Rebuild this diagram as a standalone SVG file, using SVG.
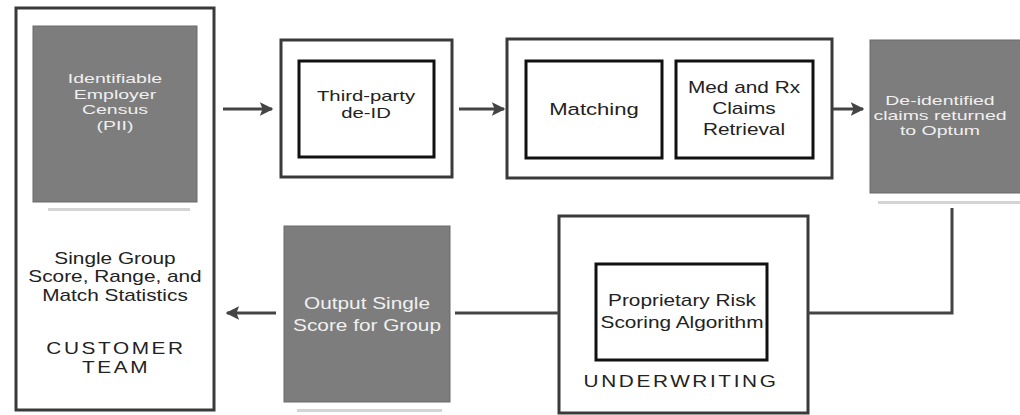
<svg xmlns="http://www.w3.org/2000/svg" width="1020" height="415" viewBox="0 0 1020 415">
<defs>
<marker id="ah" viewBox="0 0 10 10" refX="9" refY="5" markerWidth="4.5" markerHeight="4.5" orient="auto" markerUnits="strokeWidth">
<path d="M0,0 L10,5 L0,10 L2,5 Z" fill="#444"/>
</marker>
<style>
.outer{fill:#fff;stroke:#3a3a3a;stroke-width:3}
.inner{fill:#fff;stroke:#111;stroke-width:3}
.grey{fill:#7d7d7d;stroke:#6a6a6a;stroke-width:1}
.shadow{fill:#d4d4d4}
.t{font-family:"Liberation Sans",Arial,sans-serif;font-size:16px;fill:#222;text-anchor:middle;dominant-baseline:central}
.w{fill:#f0f0f0}
.sm{font-size:13px}
.s14{font-size:14px}
.m17{font-size:17px}
.cap{letter-spacing:2px}
.c{fill:none;stroke:#444;stroke-width:3}
</style>
</defs>
<rect width="1020" height="415" fill="#fff"/>

<g id="customer-team">
<rect class="outer" x="16" y="8" width="198" height="402"/>
<text class="t" transform="translate(115,258) scale(1.3,1)">Single Group</text>
<text class="t" transform="translate(115,276) scale(1.3,1)">Score, Range, and</text>
<text class="t" transform="translate(115,295) scale(1.3,1)">Match Statistics</text>
<text class="t cap" transform="translate(116,348) scale(1.3,1)">CUSTOMER</text>
<text class="t cap" transform="translate(116,367) scale(1.3,1)">TEAM</text>
</g>

<g id="census">
<rect class="shadow" x="48" y="208" width="142" height="3"/>
<rect class="grey" x="33" y="26" width="164" height="176"/>
<text class="t w sm" transform="translate(115,79) scale(1.5,1)">Identifiable</text>
<text class="t w sm" transform="translate(115,94.5) scale(1.5,1)">Employer</text>
<text class="t w sm" transform="translate(115,110) scale(1.5,1)">Census</text>
<text class="t w sm" transform="translate(115,125.5) scale(1.5,1)">(PII)</text>
</g>

<g id="deid-stage">
<rect class="outer" x="281" y="40" width="171" height="137"/>
</g>
<g id="third-party">
<rect class="inner" x="299" y="61" width="135" height="96"/>
<text class="t s14" transform="translate(366,96.5) scale(1.45,1)">Third-party</text>
<text class="t s14" transform="translate(366,113) scale(1.45,1)">de-ID</text>
</g>

<g id="match-stage">
<rect class="outer" x="507" y="39" width="325" height="139"/>
</g>
<g id="matching">
<rect class="inner" x="526" y="61" width="136" height="97"/>
<text class="t m17" transform="translate(594,109) scale(1.3,1)">Matching</text>
</g>
<g id="claims-retrieval">
<rect class="inner" x="676" y="61" width="137" height="97"/>
<text class="t" transform="translate(744,87) scale(1.3,1)">Med and Rx</text>
<text class="t" transform="translate(744,108) scale(1.3,1)">Claims</text>
<text class="t" transform="translate(744,129) scale(1.3,1)">Retrieval</text>
</g>

<g id="deidentified-claims">
<rect class="shadow" x="878" y="201" width="142" height="3"/>
<rect class="grey" x="870" y="40" width="152" height="153"/>
<text class="t w sm" transform="translate(940,101) scale(1.5,1)">De-identified</text>
<text class="t w sm" transform="translate(940,116) scale(1.5,1)">claims returned</text>
<text class="t w sm" transform="translate(940,131) scale(1.5,1)">to Optum</text>
</g>

<g id="underwriting">
<rect class="outer" x="559" y="216" width="249" height="197"/>
<text class="t cap" transform="translate(681,381) scale(1.3,1)">UNDERWRITING</text>
</g>
<g id="risk-algorithm">
<rect class="inner" x="596" y="264" width="171" height="96"/>
<text class="t" transform="translate(682,300) scale(1.3,1)">Proprietary Risk</text>
<text class="t" transform="translate(682,322) scale(1.3,1)">Scoring Algorithm</text>
</g>

<g id="output-score">
<rect class="shadow" x="297" y="409" width="145" height="3"/>
<rect class="grey" x="284" y="226" width="166" height="176"/>
<text class="t w" transform="translate(367,303) scale(1.3,1)">Output Single</text>
<text class="t w" transform="translate(367,325) scale(1.3,1)">Score for Group</text>
</g>

<g id="connectors">
<line class="c" x1="223" y1="109" x2="272" y2="109" marker-end="url(#ah)"/>
<line class="c" x1="459" y1="109" x2="504" y2="109" marker-end="url(#ah)"/>
<line class="c" x1="833" y1="109" x2="863" y2="109" marker-end="url(#ah)"/>
<polyline class="c" points="952,208 952,313 808,313"/>
<line class="c" x1="559" y1="313" x2="455" y2="313"/>
<line class="c" x1="276" y1="313" x2="227" y2="313" marker-end="url(#ah)"/>
</g>
</svg>
